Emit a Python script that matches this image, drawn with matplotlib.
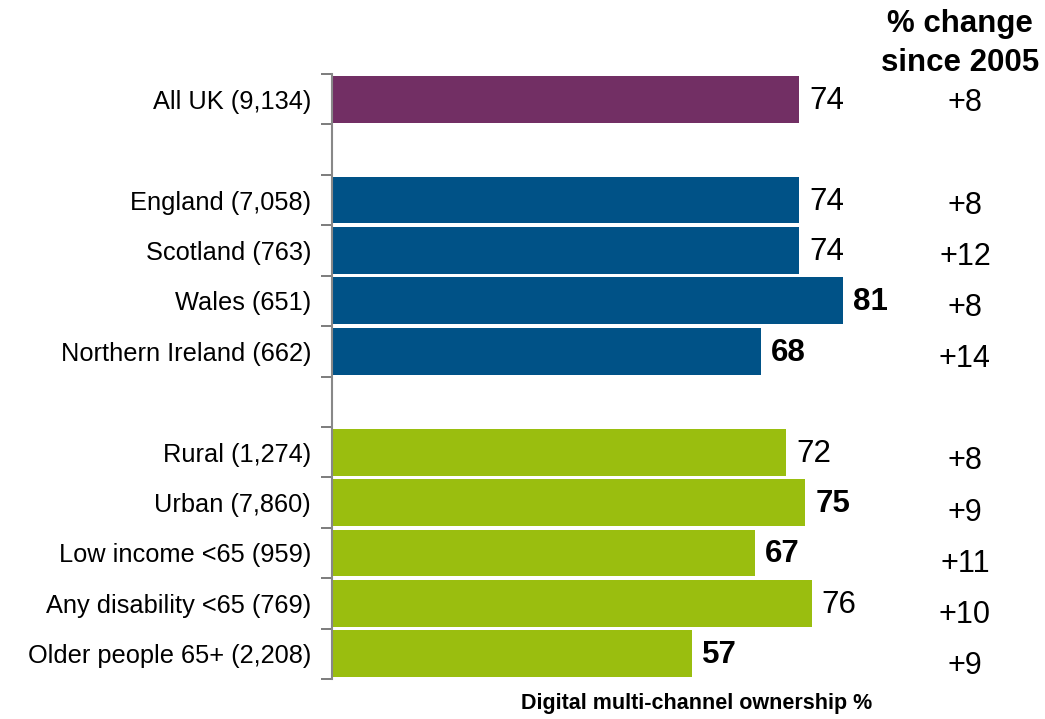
import numpy as np
import matplotlib.pyplot as plt

plt.rcParams['font.family'] = ['Liberation Sans', 'DejaVu Sans']

# Data
labels = ["All UK (9,134)", "England (7,058)", "Scotland (763)", "Wales (651)",
          "Northern Ireland (662)", "Rural (1,274)", "Urban (7,860)",
          "Low income <65 (959)", "Any disability <65 (769)",
          "Older people 65+ (2,208)"]
values = [74, 74, 74, 81, 68, 72, 75, 67, 76, 57]
changes = ["+8", "+8", "+12", "+8", "+14", "+8", "+9", "+11", "+10", "+9"]
bold = [False, False, False, True, True, False, True, True, False, True]
groups = ["uk", "nation", "nation", "nation", "nation",
          "demo", "demo", "demo", "demo", "demo"]

# slot positions (blank slot between groups)
pos = np.array([0, 2, 3, 4, 5, 7, 8, 9, 10, 11])
group_colors = {"uk": "#722F64", "nation": "#005287", "demo": "#9ABE0F"}
colors = [group_colors[g] for g in groups]

fig = plt.figure(figsize=(10.45, 7.19), dpi=100)
ax = fig.add_axes([332 / 1045, 1 - 679 / 719, 631 / 1045, 605 / 719])

ax.barh(pos, values, height=0.93, color=colors)

for p, v, b in zip(pos, values, bold):
    ax.text(v + 1.6, p + 0.03, str(v), va='center', ha='left', fontsize=22.5,
            fontweight='bold' if b else 'normal')

for p, c in zip(pos, changes):
    ax.text(100.3, p * 1.015 + 0.08, c, va='center', ha='center',
            fontsize=22, clip_on=False)

ax.text(99.5, -1.1, "% change\nsince 2005", ha='center', va='center',
        fontsize=22.5, fontweight='bold', linespacing=1.38, clip_on=False)

ax.set_xlim(0, 100)
ax.set_ylim(11.5, -0.5)

ax.set_yticks(pos)
ax.set_yticklabels(labels, fontsize=18.3)
ax.tick_params(axis='y', which='major', length=0, pad=15)
ax.set_yticks(np.arange(-0.5, 12, 1), minor=True)
ax.tick_params(axis='y', which='minor', length=8, width=1.2, color='#666666')

ax.set_xticks([])
for s in ['top', 'right', 'bottom']:
    ax.spines[s].set_visible(False)
ax.spines['left'].set_color('#888888')
ax.spines['left'].set_linewidth(1.5)

fig.text(697 / 1045, 1 - 704 / 719, "Digital multi-channel ownership %",
         ha='center', va='center', fontsize=15.5, fontweight='bold')

fig.savefig("out.png", dpi=100)
